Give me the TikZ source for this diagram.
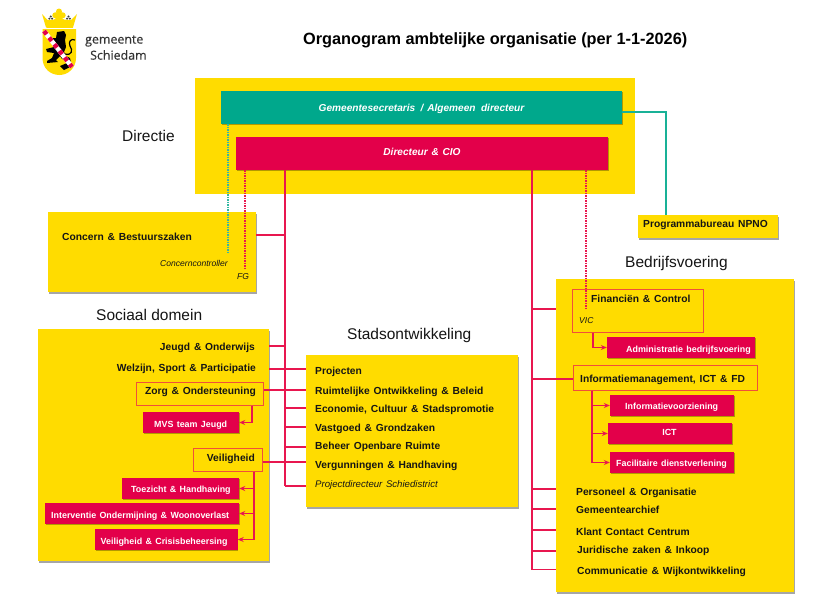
\documentclass[tikz,border=0pt]{standalone}
\usepackage{fontspec}
\setmainfont{Liberation Sans}[WordSpace=1.35]
\newfontfamily\plainf{Liberation Sans}
\newfontfamily\logof{Open Sans}[FakeBold=0.35]
\usetikzlibrary{fit,shadows,arrows.meta}
\definecolor{geel}{HTML}{FFDC00}
\definecolor{rood}{HTML}{E3004A}
\definecolor{groen}{HTML}{00A88C}
\definecolor{lijn}{HTML}{E8174F}
\definecolor{kader}{HTML}{F0503A}
\definecolor{tekst}{HTML}{151515}
\tikzset{
 x=1pt,y=-1pt,
 plate/.style={fill=geel,draw=none,inner sep=0pt},
 plateS/.style={plate,drop shadow={shadow xshift=1pt,shadow yshift=-1.6pt,fill=black,opacity=.35}},
 redbox/.style={fill=rood,draw=none,inner sep=0pt,drop shadow={shadow xshift=.8pt,shadow yshift=-1.2pt,fill=black,opacity=.3}},
 greenbox/.style={fill=groen,draw=none,inner sep=0pt,drop shadow={shadow xshift=.8pt,shadow yshift=-1.2pt,fill=black,opacity=.3}},
 frame/.style={draw=kader,line width=1pt,inner sep=0pt},
 lbl/.style={inner sep=0pt,yshift=-1.5pt,text=tekst,font=\bfseries\fontsize{10.25}{12}\selectfont,anchor=west,text height=7.2pt,text depth=2pt},
 wl/.style={lbl,text=white,font=\bfseries\fontsize{8.9}{10}\selectfont},
 il/.style={lbl,font=\itshape\fontsize{8.55}{10}\selectfont},
 head/.style={inner sep=0pt,text=tekst,font=\plainf\fontsize{15.5}{18}\selectfont,anchor=west},
 conn/.style={draw=lijn,line width=1.4pt},
 arr/.style={conn,-{Stealth[length=6pt,width=5pt]}},
 reddot/.style={draw=lijn,line width=1.3pt,dash pattern=on 1.3pt off 1.2pt},
 greendot/.style={draw=groen!80,line width=1.2pt,dash pattern=on 1.3pt off 1.2pt},
 greenline/.style={draw=groen!90,line width=1.4pt},
}
\begin{document}
\begin{tikzpicture}
\useasboundingbox (0,0) rectangle (822,613);
\fill[white] (0,0) rectangle (822,613);
% logo
\begin{scope}
 \fill[geel] (42,14) -- (47.5,20) -- (54,19.5) -- (59,16) -- (64,19.5) -- (71,20) -- (77,14) -- (73,27.5) -- (46,27.5) -- cycle;
 \fill[geel] (59,11.5) circle (3pt) (55.3,15.3) circle (3pt) (62.7,15.3) circle (3pt) (59,17) circle (3pt);
 \fill[geel] (46.5,21) rectangle (72.5,27.5);
 \fill[black!75] (50.7,16.5) circle (1.1pt) (49.3,18.6) circle (1.1pt) (52.1,18.6) circle (1.1pt) (68.5,16.5) circle (1.1pt) (67.1,18.6) circle (1.1pt) (69.9,18.6) circle (1.1pt);
 \fill[geel] (42.5,29) -- (76,29) -- (76,58) .. controls (76,68) and (68,75) .. (59.5,75) .. controls (50,75) and (42.5,68) .. (42.5,58) -- cycle;
 % lion
 \fill[black] (57,32) -- (64,31) -- (66,35) -- (65,40) -- (66,47) -- (64,52) -- (66,56) -- (70,58) -- (71,63) -- (67,60) -- (62,59) -- (60,56) -- (56,60) -- (58,62) -- (47,63) -- (47,61) -- (52,58) -- (54,53) -- (47,52) -- (46,49) -- (54,47) -- (55,42) -- (50,40) -- (50,38) -- (56,38) -- cycle;
 \draw[black,line width=1.2pt] (65,54) .. controls (72,56) and (73,50) .. (70,46) .. controls (68,42) and (71,38) .. (75,40);
 \fill[black] (60,66) -- (67,63) -- (70,67) -- (64,70) -- cycle;
 % sash
 \draw[white,line width=4.5pt] (44,31) -- (72,67);
 \draw[rood,line width=4.5pt,dash pattern=on 4.2pt off 4.2pt] (44,31) -- (72,67);
\end{scope}
\node[inner sep=0pt,anchor=west,text=black!80,font=\logof\fontsize{12.4}{14}\selectfont] (lg1) at (85,41) {gemeente};
\node[inner sep=0pt,anchor=west,text=black!80,font=\logof\fontsize{12.4}{14}\selectfont] (lg2) at (90,55) {Schiedam};
\node[inner sep=0pt,anchor=west,text=black,font=\plainf\bfseries\fontsize{16.3}{19}\selectfont] (title) at (303,40) {Organogram ambtelijke organisatie (per 1-1-2026)};
% plates
\node[plate,fit={(195,78)(635,194)}] (dirp) {};
\node[plateS,fit={(48,212)(256,292)}] (cons) {};
\node[plateS,fit={(638,215)(778,238)}] (prog) {};
\node[plateS,fit={(38,329)(269,561)}] (soc) {};
\node[plateS,fit={(306,355)(518,507)}] (stad) {};
\node[plateS,fit={(556,279)(794,592)}] (bedr) {};
% headers
\node[greenbox,fit={(221,91)(622,124)}] (gs) {};
\node[redbox,fit={(236,137)(608,170)}] (cio) {};
\node[wl,anchor=center,font=\bfseries\itshape\fontsize{10.1}{12}\selectfont] (gst) at (421.5,107.5) {Gemeentesecretaris\, / Algemeen\, directeur};
\node[wl,anchor=center,font=\bfseries\itshape\fontsize{10.1}{12}\selectfont] (ciot) at (422,151) {Directeur \& CIO};
% headings
\node[head] (h1) at (122,136) {Directie};
\node[head] (h2) at (96,315) {Sociaal domein};
\node[head] (h3) at (347,335) {Stadsontwikkeling};
\node[head] (h4) at (625,263) {Bedrijfsvoering};
% coordinates of trunks
\coordinate (tL) at (285,170);
\coordinate (tLe) at (285,486);
\coordinate (tR) at (532,170);
\coordinate (tRe) at (532,569.5);
% Frames
\node[frame,fit={(136,382)(263,405)}] (zorg) {};
\node[frame,fit={(193,448)(262,471)}] (veil) {};
\node[frame,fit={(572.5,289)(703,332)}] (fin) {};
\node[frame,fit={(573,365)(757,390)}] (inf) {};
% red boxes
\node[redbox,fit={(143,412)(239,433)}] (mvs) {};
\node[redbox,fit={(122,478)(239,499)}] (toe) {};
\node[redbox,fit={(45,503)(239,524)}] (int) {};
\node[redbox,fit={(95,529)(237.5,550)}] (vc) {};
\node[redbox,fit={(607,337)(755,358)}] (adm) {};
\node[redbox,fit={(610,395)(734,416)}] (ivz) {};
\node[redbox,fit={(608,423)(732,444)}] (ict) {};
\node[redbox,fit={(610,452)(734,473)}] (fac) {};
% connectors
\draw[conn] (tL) -- (tLe);
\draw[conn] (tR) -- (tRe);
\draw[conn] (cons.east |- 0,235) -- (tL |- 0,235);
\draw[conn] (soc.east |- 0,346) -- (tL |- 0,346);
\draw[conn] (soc.east |- 0,369) -- (stad.west |- 0,369);
\draw[conn] (zorg.east |- 0,390) -- (stad.west |- 0,390);
\draw[conn] (veil.east |- 0,462) -- (stad.west |- 0,462);
\draw[conn] (tL |- 0,408) -- (stad.west |- 0,408);
\draw[conn] (tL |- 0,427) -- (stad.west |- 0,427);
\draw[conn] (tL |- 0,447) -- (stad.west |- 0,447);
\draw[conn] (tLe) -- (stad.west |- tLe);
\draw[conn] (tR |- 0,309) -- (bedr.west |- 0,309);
\draw[conn] (tR |- 0,379) -- (inf.west |- 0,379);
\draw[conn] (tR |- 0,489) -- (bedr.west |- 0,489);
\draw[conn] (tR |- 0,509) -- (bedr.west |- 0,509);
\draw[conn] (tR |- 0,530) -- (bedr.west |- 0,530);
\draw[conn] (tR |- 0,551) -- (bedr.west |- 0,551);
\draw[conn] (tRe) -- (bedr.west |- tRe);
\draw[arr] (252,0 |- zorg.south) |- (mvs.east);
\draw[arr] (254,0 |- veil.south) |- (toe.east);
\draw[arr] (254,0 |- veil.south) |- (int.east);
\draw[arr] (254,0 |- veil.south) |- (vc.east);
\draw[arr] (593,0 |- fin.south) |- (adm.west);
\draw[arr] (592,0 |- inf.south) |- (ivz.west);
\draw[arr] (592,0 |- inf.south) |- (ict.west);
\draw[arr] (592,0 |- inf.south) |- (fac.west);
\coordinate (dotG) at (228,253);
\coordinate (dotF) at (245,268);
\coordinate (dotV) at (586,310);
\draw[greendot] (gs.south -| dotG) -- (dotG);
\draw[reddot] (cio.south -| dotF) -- (dotF);
\draw[reddot] (cio.south -| dotV) -- (dotV);
\draw[greenline] (gs.east |- 0,112) -| (prog.north -| 666,0);
% labels
\node[lbl] (t1) at (62,236) {Concern \& Bestuurszaken};
\node[il] (t2) at (160,262) {Concerncontroller};
\node[il] (t3) at (237,275) {FG};
\node[lbl] (t4) at (643,223) {Programmabureau NPNO};
\node[lbl,anchor=east] (s1) at (255,346) {Jeugd \& Onderwijs};
\node[lbl,anchor=east] (s2) at (256,367) {Welzijn, Sport \& Participatie};
\node[lbl,anchor=east] (s3) at (256,390) {Zorg \& Ondersteuning};
\node[wl] (s4) at (154,423) {MVS team Jeugd};
\node[lbl,anchor=east] (s5) at (255,457) {Veiligheid};
\node[wl] (s6) at (131,488) {Toezicht \& Handhaving};
\node[wl] (s7) at (51,514) {Interventie Ondermijning \& Woonoverlast};
\node[wl] (s8) at (100.5,540) {Veiligheid \& Crisisbeheersing};
\node[lbl] (d1) at (315,370) {Projecten};
\node[lbl] (d2) at (315,390) {Ruimtelijke Ontwikkeling \& Beleid};
\node[lbl] (d3) at (315,408.5) {Economie, Cultuur \& Stadspromotie};
\node[lbl] (d4) at (315,427) {Vastgoed \& Grondzaken};
\node[lbl] (d5) at (315,445.5) {Beheer Openbare Ruimte};
\node[lbl] (d6) at (315,464) {Vergunningen \& Handhaving};
\node[il,font=\itshape\fontsize{9.6}{11}\selectfont] (d7) at (315,483) {Projectdirecteur Schiedistrict};
\node[lbl] (b1) at (591,298) {Financiën \& Control};
\node[il] (b2) at (579,319) {VIC};
\node[wl] (b3) at (626,348) {Administratie bedrijfsvoering};
\node[lbl] (b4) at (580,378) {Informatiemanagement, ICT \& FD};
\node[wl] (b5) at (625,405) {Informatievoorziening};
\node[wl,anchor=center] (b6) at (669.5,431) {ICT};
\node[wl] (b7) at (616,462) {Facilitaire dienstverlening};
\node[lbl] (b8) at (576,491) {Personeel \& Organisatie};
\node[lbl] (b9) at (576,509.5) {Gemeentearchief};
\node[lbl] (b10) at (576,531) {Klant Contact Centrum};
\node[lbl] (b11) at (577,549.5) {Juridische zaken \& Inkoop};
\node[lbl] (b12) at (577,570) {Communicatie \& Wijkontwikkeling};
\end{tikzpicture}
\end{document}
